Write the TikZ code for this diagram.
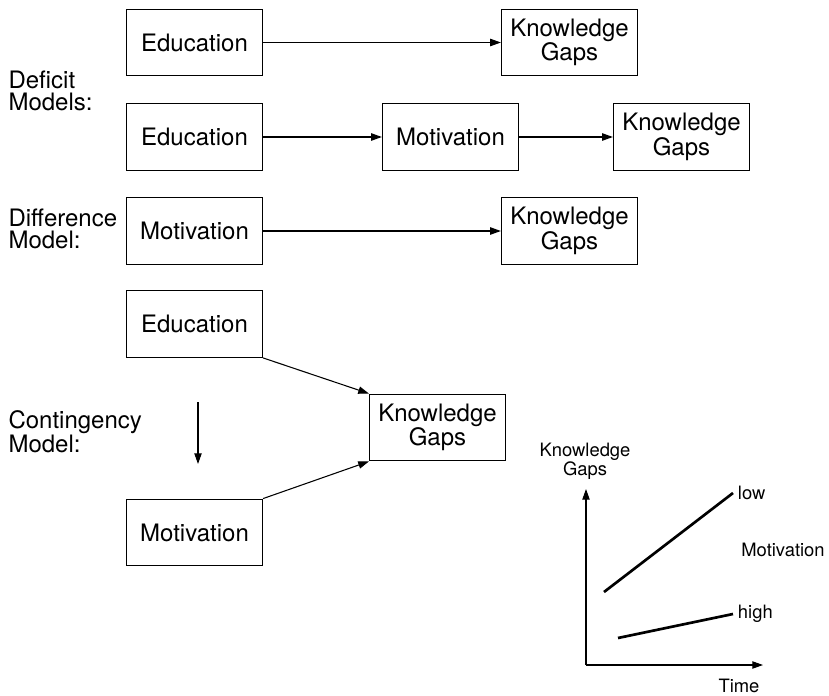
\documentclass[tikz,border=0pt]{standalone}
\usepackage{fontspec}
\setmainfont{TeX Gyre Heros}
\usetikzlibrary{arrows.meta}

\begin{document}
\begin{tikzpicture}[x=0.75pt,y=-0.75pt,>={Triangle[length=8pt,width=5.5pt]},
  line width=0.8pt,
  model box/.style={draw,line width=0.9pt,minimum width=102pt,minimum height=50pt,
    inner sep=0pt,align=center,font=\fontsize{18}{17}\selectfont},
  model label/.style={anchor=west,align=left,inner sep=0pt,font=\fontsize{18}{17}\selectfont},
  graph label/.style={font=\fontsize{13.8}{11.5}\selectfont},
  trend/.style={line width=2pt}]
  \useasboundingbox (0,0) rectangle (829,696);

  % deficit models
  \node[model label] (deficit) at (8,91) {Deficit\\Models:};
  \node[model box] (edu1) at (194.5,42.5) {Education};
  \node[model box] (kg1) at (569.5,42.5) {Knowledge\\Gaps};
  \node[model box] (edu2) at (194.5,137) {Education};
  \node[model box] (mot2) at (450.5,137) {Motivation};
  \node[model box] (kg2) at (681.5,137) {Knowledge\\Gaps};

  % difference model
  \node[model label] (difference) at (8,229) {Difference\\Model:};
  \node[model box] (mot3) at (194.5,231) {Motivation};
  \node[model box] (kg3) at (569.5,231) {Knowledge\\Gaps};

  % contingency model
  \node[model label] (contingency) at (8,432) {Contingency\\Model:};
  \node[model box] (edu4) at (194.5,324) {Education};
  \node[model box] (mot4) at (194.5,532.5) {Motivation};
  \node[model box] (kg4) at (437.5,427.5) {Knowledge\\Gaps};
  \coordinate (downtop) at (198,402);
  \coordinate (downend) at (198,464);

  \draw[->] (edu1) -- (kg1);
  \draw[->] (edu2) -- (mot2);
  \draw[->] (mot2) -- (kg2);
  \draw[->] (mot3) -- (kg3);
  \draw[->] (edu4.south east) -- (kg4.north west);
  \draw[->] (mot4.north east) -- (kg4.south west);
  \draw[->] (downtop) -- (downend);

  % small graph
  \coordinate (origin) at (586,665);
  \coordinate (ytip) at (586,489);
  \coordinate (xtip) at (763,665);
  \draw[->] (origin) -- (ytip);
  \draw[->] (origin) -- (xtip);
  \node[graph label,align=center] (ylabel) at (585,461) {Knowledge\\Gaps};
  \node[graph label,inner sep=1pt] (time) at (739,686) {Time};
  \node[graph label] (motivation) at (783,550) {Motivation};
  \node[graph label,anchor=west] (low) at (733,493) {low};
  \node[graph label,anchor=west] (high) at (733,614) {high};
  \coordinate (lowstart) at (604,592);
  \coordinate (highstart) at (618,638);
  \draw[trend] (lowstart) -- (low.west);
  \draw[trend] (highstart) -- (high.west);
\end{tikzpicture}
\end{document}
